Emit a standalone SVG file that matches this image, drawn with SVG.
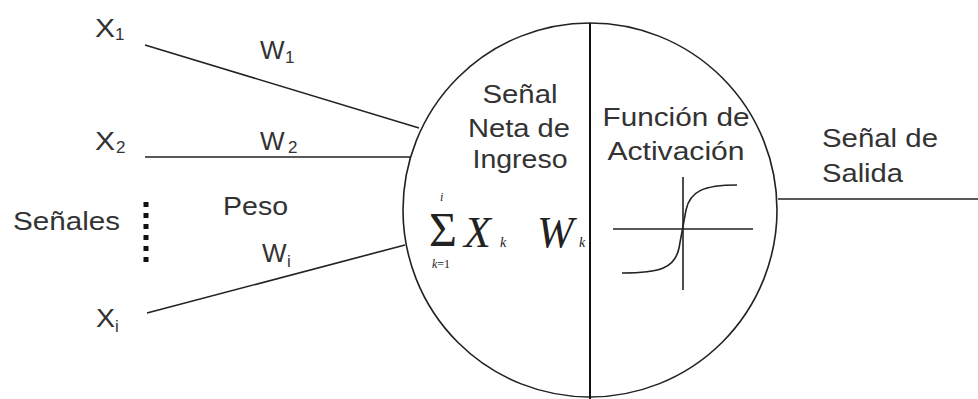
<svg xmlns="http://www.w3.org/2000/svg" width="978" height="399" viewBox="0 0 978 399">
<style>
.t{font-family:"Liberation Sans",Arial,sans-serif;font-size:26px;fill:#333}
.s{font-family:"Liberation Sans",Arial,sans-serif;font-size:17px;fill:#333}
.m{font-family:"Liberation Serif","Times New Roman",serif;font-style:italic;fill:#222}
.ln{stroke:#222;stroke-width:1.6;fill:none}
</style>
<rect width="978" height="399" fill="#fff"/>
<g id="connectors">
<line class="ln" x1="145" y1="45" x2="419" y2="128"/>
<line class="ln" x1="145" y1="157" x2="410" y2="157"/>
<line class="ln" x1="147" y1="313" x2="405" y2="245"/>
<line class="ln" x1="778" y1="199" x2="978" y2="199"/>
</g>
<g id="neuron">
<circle class="ln" cx="590" cy="210" r="187"/>
<line x1="590" y1="23" x2="590" y2="399" stroke="#111" stroke-width="2"/>
<text class="t" x="520" y="103" text-anchor="middle" textLength="75" lengthAdjust="spacingAndGlyphs">Señal</text>
<text class="t" x="519" y="137" text-anchor="middle" textLength="102" lengthAdjust="spacingAndGlyphs">Neta de</text>
<text class="t" x="520" y="168" text-anchor="middle" textLength="95" lengthAdjust="spacingAndGlyphs">Ingreso</text>
<text class="t" x="676" y="126" text-anchor="middle" textLength="147" lengthAdjust="spacingAndGlyphs">Función de</text>
<text class="t" x="676" y="160" text-anchor="middle" textLength="137" lengthAdjust="spacingAndGlyphs">Activación</text>
<text x="429" y="246" font-family="'Liberation Serif','Times New Roman',serif" font-size="48" fill="#222">Σ</text>
<text class="m" x="440" y="201" font-size="12">i</text>
<text class="m" x="432" y="268" font-size="12">k<tspan font-style="normal">=1</tspan></text>
<text class="m" x="464" y="247" font-size="44">X</text>
<text class="m" x="500" y="247" font-size="14">k</text>
<text class="m" x="537" y="247" font-size="44">W</text>
<text class="m" x="579" y="247" font-size="14">k</text>
<line x1="683" y1="177" x2="683" y2="290" stroke="#222" stroke-width="1.6"/>
<line x1="613" y1="229" x2="753" y2="229" stroke="#222" stroke-width="1.6"/>
<path class="ln" d="M622,273 C660,273 675,268 679,248 L686,210 C690,191 704,185 737,185" stroke-width="2"/>
</g>
<g id="x1"><text class="t" x="95" y="37" textLength="20" lengthAdjust="spacingAndGlyphs">X</text><text class="s" x="115" y="40">1</text></g>
<g id="x2"><text class="t" x="95" y="150" textLength="20" lengthAdjust="spacingAndGlyphs">X</text><text class="s" x="116" y="153">2</text></g>
<g id="xi"><text class="t" x="96" y="327" textLength="19" lengthAdjust="spacingAndGlyphs">X</text><text class="s" x="115" y="332">i</text></g>
<g id="w1"><text class="t" x="260" y="59">W</text><text class="s" x="285" y="63">1</text></g>
<g id="w2"><text class="t" x="260" y="150">W</text><text class="s" x="288" y="153">2</text></g>
<g id="wi"><text class="t" x="262" y="262">W</text><text class="s" x="287" y="267">i</text></g>
<g id="peso"><text class="t" x="223" y="215" textLength="65" lengthAdjust="spacingAndGlyphs">Peso</text></g>
<g id="senales"><text class="t" x="13" y="230" textLength="107" lengthAdjust="spacingAndGlyphs">Señales</text>
<line x1="146" y1="202" x2="146" y2="265" stroke="#111" stroke-width="5" stroke-dasharray="5 6"/></g>
<g id="salida"><text class="t" x="822" y="147" textLength="116" lengthAdjust="spacingAndGlyphs">Señal de</text>
<text class="t" x="822" y="182" textLength="81" lengthAdjust="spacingAndGlyphs">Salida</text></g>
</svg>
